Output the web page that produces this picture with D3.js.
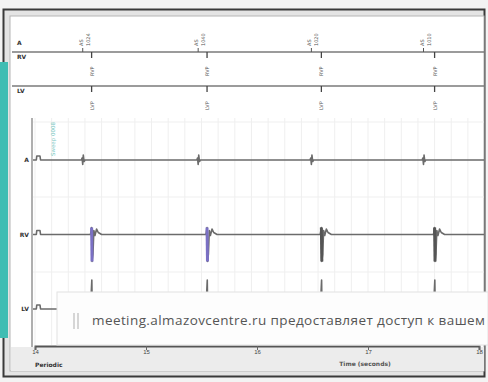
<!DOCTYPE html>
<html>
<head>
<meta charset="utf-8">
<script src="https://cdn.jsdelivr.net/npm/d3@7"></script>
<style>
  html, body { margin: 0; padding: 0; background: #f3f3f3; overflow: hidden; }
  svg { display: block; font-family: "DejaVu Sans", sans-serif; }
</style>
</head>
<body>
<svg id="egm" width="488" height="382"></svg>
<script>
'use strict';

// channels and beat timing (seconds)
const channels = ["A", "RV", "LV"];
const aTimes = [14.43, 15.47, 16.49, 17.50];
const vTimes = [14.51, 15.55, 16.58, 17.60];
const aMarker = "AS";
const aIntervals = ["1024", "1040", "1020", "1010"];
const rvMarker = "RVP";
const lvMarker = "LVP";
const timeTicks = [14, 15, 16, 17, 18];
const sweepLabel = "Sweep 0008";
const overlayText = "meeting.almazovcentre.ru предоставляет доступ к вашем";

// waveform shapes: [time offset (s), mV]
const calPulse = [[13.982, 0], [14.012, 0], [14.016, 0.8], [14.045, 0.8], [14.05, 0], [14.07, 0]];
const aWave = [[-0.012, 0], [-0.006, 0.4], [0, -0.9], [0.005, 1.0], [0.012, -0.3], [0.02, 0]];
const rvWave = [[-0.01, 0], [0, 1.4], [0.004, -5.4], [0.012, -4], [0.02, 0.8], [0.03, -0.2], [0.045, 1.1], [0.06, 0.4], [0.09, 0]];
const lvWave = [[-0.01, 0], [0.002, 5.8], [0.006, -1], [0.02, 0.5], [0.05, 0]];
const paceSpike = [[0, 1.4], [0.004, -5.4]];

const svg = d3.select("#egm");
const W = 488, H = 382;

const x = d3.scaleLinear().domain([14, 18]).range([35, 479]);
const base = d3.scalePoint().domain(channels).range([160, 309]);
const amp = d3.scaleLinear().domain([0, 1]).range([0, -5]);

// frame
svg.append("rect").attr("width", W).attr("height", H).attr("fill", "#f3f3f3");
svg.append("rect").attr("x", 3.5).attr("y", 9.5).attr("width", 481).attr("height", 367)
  .attr("fill", "#e4e4e4").attr("stroke", "#3a3a3a").attr("stroke-width", 2);
svg.append("rect").attr("x", 10).attr("y", 16).attr("width", 474).attr("height", 355)
  .attr("fill", "#fff").attr("stroke", "#b5b5b5");
svg.append("rect").attr("x", 11).attr("y", 347).attr("width", 473).attr("height", 24).attr("fill", "#ececec");

// teal side bar
svg.append("rect").attr("x", 0).attr("y", 62).attr("width", 8).attr("height", 276).attr("fill", "#3fbdb3");

// ---- marker channel rows ----
const mk = svg.append("g");
[52, 86].forEach(y => mk.append("line").attr("x1", 12).attr("x2", 484).attr("y1", y).attr("y2", y)
  .attr("stroke", "#7a7a7a").attr("stroke-width", 1.5));

mk.selectAll(".rowlab").data([["A", 45], ["RV", 59], ["LV", 93]]).enter().append("text")
  .attr("x", 17).attr("y", d => d[1]).text(d => d[0])
  .attr("font-size", 6).attr("font-weight", "bold").attr("fill", "#333");

const rot = (px, py) => `translate(${px},${py}) rotate(-90)`;
aTimes.forEach((t, i) => {
  const px = x(t);
  mk.append("line").attr("x1", px).attr("x2", px).attr("y1", 48).attr("y2", 52).attr("stroke", "#555");
  mk.append("text").attr("transform", rot(px, 46)).text(aMarker).attr("font-size", 5).attr("fill", "#555");
  mk.append("text").attr("transform", rot(px + 7, 46)).text(aIntervals[i]).attr("font-size", 5).attr("fill", "#555");
});
vTimes.forEach(t => {
  const px = x(t);
  mk.append("line").attr("x1", px).attr("x2", px).attr("y1", 52).attr("y2", 58).attr("stroke", "#444").attr("stroke-width", 1.3);
  mk.append("text").attr("transform", rot(px + 2, 76)).text(rvMarker).attr("font-size", 5).attr("fill", "#555");
  mk.append("line").attr("x1", px).attr("x2", px).attr("y1", 86).attr("y2", 92).attr("stroke", "#444").attr("stroke-width", 1.3);
  mk.append("text").attr("transform", rot(px + 2, 110)).text(lvMarker).attr("font-size", 5).attr("fill", "#555");
});

// ---- EGM area ----
const grid = svg.append("g").attr("stroke", "#efefef").attr("stroke-width", 1);
grid.selectAll(".vg").data(d3.range(14.0, 18.0, 0.15)).enter().append("line")
  .attr("x1", d => x(d)).attr("x2", d => x(d)).attr("y1", 118).attr("y2", 345);
grid.selectAll(".hg").data([122, 197, 272]).enter().append("line")
  .attr("x1", 33).attr("x2", 484).attr("y1", d => d).attr("y2", d => d);

svg.append("line").attr("x1", 32).attr("x2", 32).attr("y1", 118).attr("y2", 347)
  .attr("stroke", "#7a7a7a").attr("stroke-width", 1.2);

svg.append("text").attr("transform", rot(55, 156)).text(sweepLabel)
  .attr("font-size", 5.5).attr("fill", "#7cc9c4");

svg.append("clipPath").attr("id", "clip").append("rect").attr("x", 33).attr("y", 110).attr("width", 451).attr("height", 236);

function trace(wave, times) {
  const pts = calPulse.slice();
  times.forEach(t => wave.forEach(([dt, v]) => pts.push([t + dt, v])));
  pts.push([18.1, 0]);
  return pts;
}

const traces = { A: trace(aWave, aTimes), RV: trace(rvWave, vTimes), LV: trace(lvWave, vTimes) };
const eg = svg.append("g").attr("clip-path", "url(#clip)");
channels.forEach(ch => {
  const line = d3.line().x(d => x(d[0])).y(d => base(ch) + amp(d[1]));
  eg.append("path").attr("d", line(traces[ch])).attr("fill", "none")
    .attr("stroke", "#6b6b6b").attr("stroke-width", 1.6).attr("stroke-linejoin", "round");
});

// pacing spikes on RV
const spikeLine = d3.line().x(d => x(d[0])).y(d => base("RV") + amp(d[1]));
vTimes.forEach((t, i) => {
  eg.append("path").attr("d", spikeLine(paceSpike.map(([dt, v]) => [t + dt, v])))
    .attr("fill", "none").attr("stroke", i < 2 ? "#7a70c4" : "#555").attr("stroke-width", 3);
});

svg.selectAll(".chlab").data(channels).enter().append("text")
  .attr("x", 29).attr("y", d => base(d) + 2).attr("text-anchor", "end").text(d => d)
  .attr("font-size", 6).attr("font-weight", "bold").attr("fill", "#333");

// ---- time axis ----
const ax = svg.append("g").attr("transform", "translate(0,346)")
  .call(d3.axisBottom(x).tickValues(timeTicks).tickSize(4).tickFormat(d3.format("d")));
ax.select(".domain").attr("stroke", "#555").attr("stroke-width", 2);
ax.selectAll("line").attr("stroke", "#666");
ax.selectAll("text").attr("font-size", 6).attr("fill", "#444").attr("dy", "0.2em");

svg.append("text").attr("x", 365).attr("y", 366).attr("text-anchor", "middle").text("Time (seconds)")
  .attr("font-size", 6).attr("font-weight", "bold").attr("fill", "#555");
svg.append("text").attr("x", 35).attr("y", 367).text("Periodic")
  .attr("font-size", 6).attr("font-weight", "bold").attr("fill", "#333");

// ---- screen sharing notification overlay ----
const ov = svg.append("g");
ov.append("rect").attr("x", 57).attr("y", 292).attr("width", 431).attr("height", 53)
  .attr("fill", "#fdfdfd").attr("stroke", "#e2e2e2");
[74, 78].forEach(px => ov.append("line").attr("x1", px).attr("x2", px).attr("y1", 313).attr("y2", 329)
  .attr("stroke", "#c8c8c8").attr("stroke-width", 1.5));
ov.append("text").attr("x", 92).attr("y", 325).text(overlayText)
  .attr("font-family", "'Open Sans', sans-serif").attr("font-size", 13.5)
  .attr("textLength", 393).attr("lengthAdjust", "spacing").attr("fill", "#555");
</script>
</body>
</html>
